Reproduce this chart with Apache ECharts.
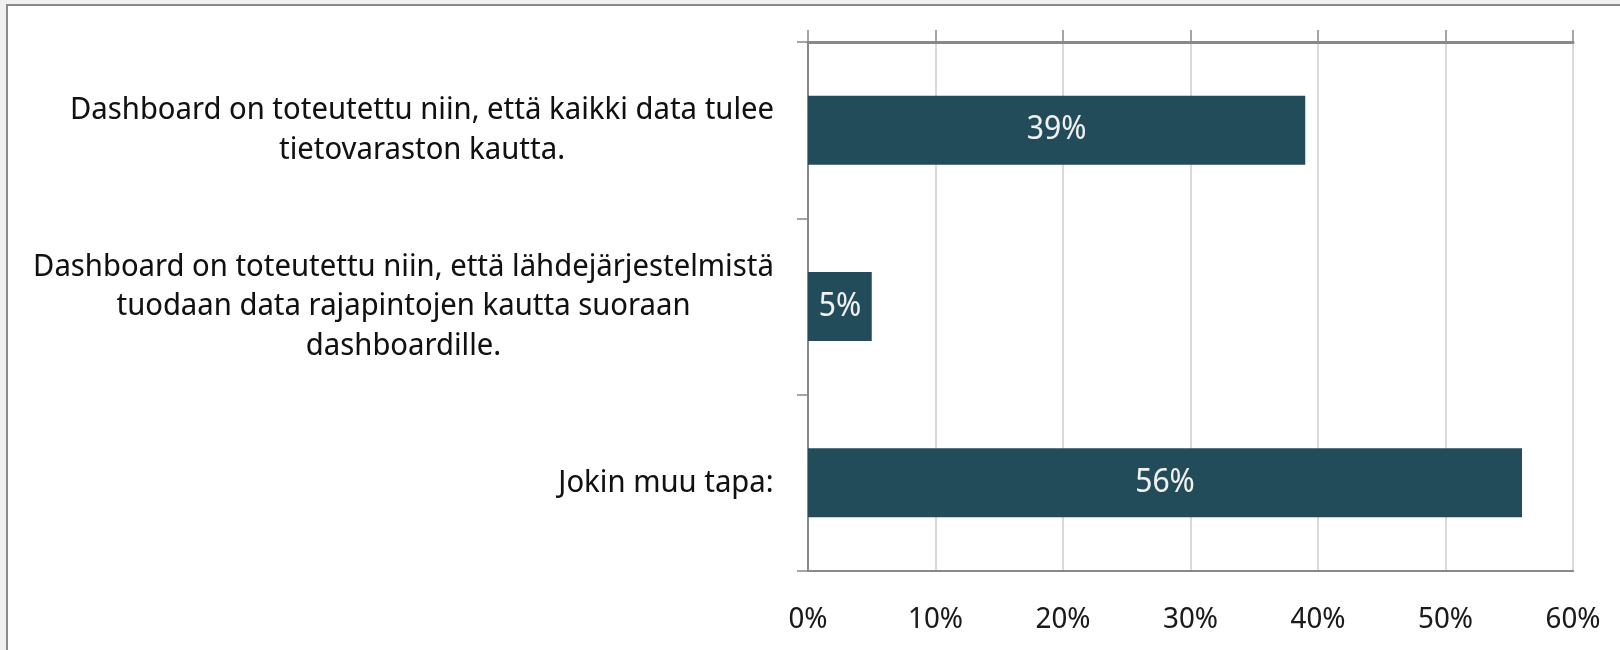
<!DOCTYPE html>
<html><head><meta charset="utf-8">
<script src="https://cdn.jsdelivr.net/npm/echarts@6/dist/echarts.min.js"></script>
<style>
html,body{margin:0;padding:0;background:#f0f0f0;overflow:hidden;}
#frame{position:absolute;left:6px;top:4px;width:1700px;height:700px;background:#fff;border:2px solid #8a8a8a;box-sizing:border-box;}
#chart{position:absolute;left:0;top:0;width:1620px;height:650px;}
</style></head>
<body><div id="frame"></div><div id="chart"></div>
<script>
const categories = [
  "Dashboard on toteutettu niin, että kaikki data tulee\ntietovaraston kautta.",
  "Dashboard on toteutettu niin, että lähdejärjestelmistä\ntuodaan data rajapintojen kautta suoraan\ndashboardille.",
  "Jokin muu tapa:"
];
const values = [39, 5, 56];
const tickLabels = ["0%", "10%", "20%", "30%", "40%", "50%", "60%"];

const FONT = '"Noto Sans Display", "Noto Sans", sans-serif';
const CAT_SIZE = 31;
const ctx = document.createElement('canvas').getContext('2d');
ctx.font = CAT_SIZE + 'px ' + FONT;
const rich = {};
categories.forEach((c, i) => {
  const w = Math.max(...c.split('\n').map(s => ctx.measureText(s).width));
  rich['c' + i] = {width: Math.ceil(w) + 2, align: 'center', fontSize: CAT_SIZE, fontFamily: FONT, fontWeight: 'normal', color: '#111', lineHeight: 39.5};
});

const chart = echarts.init(document.getElementById('chart'), null, {renderer: 'canvas'});
const axisColor = '#888888';
chart.setOption({
  backgroundColor: 'transparent',
  animation: false,
  grid: {left: 808, right: 47, top: 42, bottom: 79, show: true, borderColor: axisColor, borderWidth: 2, backgroundColor: 'transparent'},
  xAxis: [
    {type: 'value', position: 'top', min: 0, max: 60, interval: 10,
     axisLine: {show: true, lineStyle: {color: axisColor, width: 3}},
     axisTick: {show: true, length: 12, lineStyle: {color: axisColor, width: 1.5}},
     axisLabel: {show: false},
     splitLine: {show: true, lineStyle: {color: '#d9d9d9', width: 2}}},
    {type: 'value', position: 'bottom', min: 0, max: 60, interval: 10,
     axisLine: {show: true, lineStyle: {color: axisColor, width: 2}},
     axisTick: {show: false},
     splitLine: {show: false},
     axisLabel: {show: true, margin: 34, fontSize: 29.5, fontFamily: FONT, fontWeight: 'normal', color: '#1a1a1a',
       formatter: v => tickLabels[Math.round(v / 10)]}}
  ],
  yAxis: {type: 'category', data: categories, inverse: true,
    axisLine: {show: true, lineStyle: {color: axisColor, width: 2}},
    axisTick: {show: true, length: 11, lineStyle: {color: axisColor, width: 1.5}},
    splitLine: {show: false},
    axisLabel: {margin: 33, interval: 0,
      formatter: (v, i) => v.split('\n').map(s => '{c' + i + '|' + s + '}').join('\n'),
      rich: rich}},
  series: [{type: 'bar', data: values, xAxisIndex: 0, barWidth: 69,
    itemStyle: {color: '#234c5a'},
    label: {show: true, position: 'inside', formatter: p => p.value + '%', fontSize: 32, fontFamily: FONT, fontWeight: 'normal', color: '#f0f0f0'}}]
});
</script></body></html>
